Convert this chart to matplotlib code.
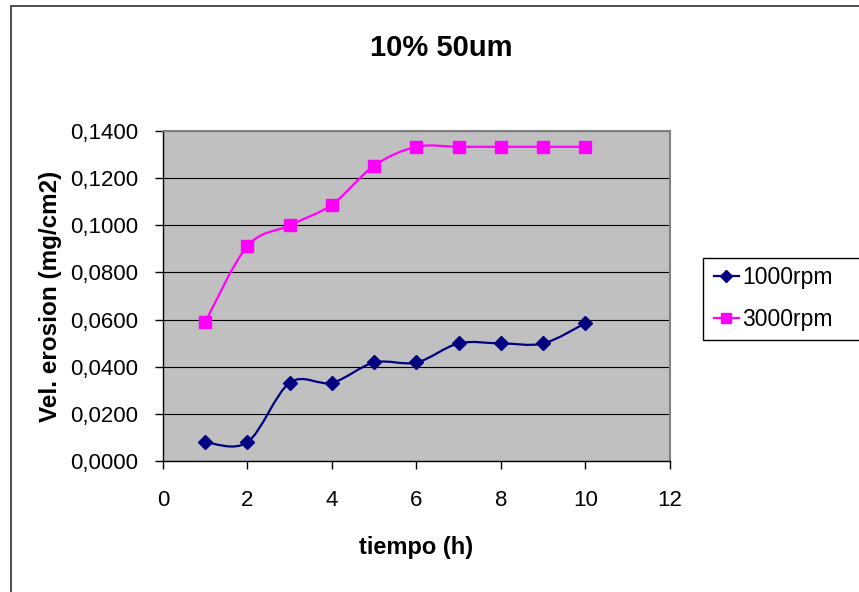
import numpy as np
import matplotlib
matplotlib.use("Agg")
import matplotlib.pyplot as plt
from matplotlib.path import Path
from matplotlib.patches import PathPatch, Rectangle
from matplotlib.lines import Line2D
from matplotlib.ticker import FuncFormatter

plt.rcParams['font.family'] = ['Liberation Sans', 'DejaVu Sans']

# ---- data ----
tiempo = [1, 2, 3, 4, 5, 6, 7, 8, 9, 10]
rpm1000 = [0.0080, 0.0080, 0.0332, 0.0332, 0.0418, 0.0418, 0.0499, 0.0499, 0.0499, 0.0585]
rpm3000 = [0.0590, 0.0912, 0.1000, 0.1088, 0.1253, 0.1333, 0.1333, 0.1333, 0.1333, 0.1333]
series_labels = ["1000rpm", "3000rpm"]
title = "10% 50um"
xlabel = "tiempo (h)"
ylabel = "Vel. erosion (mg/cm2)"
xticks = [0, 2, 4, 6, 8, 10, 12]
yticks = [0.0, 0.02, 0.04, 0.06, 0.08, 0.10, 0.12, 0.14]

W, H = 859, 592
fig = plt.figure(figsize=(W / 100, H / 100), dpi=100)
fig.patch.set_facecolor('white')

# outer chart border
fig.add_artist(Rectangle((11 / W, -0.1), 1.2, 1 - 6 / H + 0.1, transform=fig.transFigure,
                         fill=False, edgecolor='#404040', linewidth=1.3))

ax = fig.add_axes([163 / W, 1 - 461 / H, (670 - 163) / W, (461 - 131) / H])
ax.set_facecolor('#C0C0C0')
ax.set_xlim(0, 12)
ax.set_ylim(0, 0.14)
ax.set_xticks(xticks)
ax.set_yticks(yticks)
ax.yaxis.set_major_formatter(FuncFormatter(lambda v, p: f"{v:.4f}".replace('.', ',')))
ax.grid(axis='y', color='black', linewidth=0.8)
ax.set_axisbelow(True)
ax.tick_params(axis='both', direction='out', length=6, width=1, colors='black', labelsize=16)
ax.tick_params(axis='y', pad=12)
ax.tick_params(axis='x', pad=15)
for s in ['left', 'bottom']:
    ax.spines[s].set_color('black')
    ax.spines[s].set_linewidth(1.0)
for s in ['top', 'right']:
    ax.spines[s].set_color('#808080')
    ax.spines[s].set_linewidth(1.5)


def smooth_path(xs, ys):
    pts = np.column_stack([xs, ys]).astype(float)
    n = len(pts)
    verts = [pts[0]]
    codes = [Path.MOVETO]
    for i in range(n - 1):
        p0 = pts[i - 1] if i > 0 else pts[i]
        p1 = pts[i]
        p2 = pts[i + 1]
        p3 = pts[i + 2] if i + 2 < n else pts[i + 1]
        c1 = p1 + (p2 - p0) / 6.0
        c2 = p2 - (p3 - p1) / 6.0
        verts += [c1, c2, p2]
        codes += [Path.CURVE4] * 3
    return Path(verts, codes)


styles = [
    dict(color='#000080', marker='D', ms=7.0),
    dict(color='#FF00FF', marker='s', ms=8.5),
]
handles = []
for ys, st, lab in zip([rpm1000, rpm3000], styles, series_labels):
    ax.add_patch(PathPatch(smooth_path(tiempo, ys), fill=False, edgecolor=st['color'],
                           linewidth=1.6, zorder=3))
    ax.plot(tiempo, ys, linestyle='none', marker=st['marker'], markersize=st['ms'],
            color=st['color'], markeredgecolor=st['color'], zorder=4, clip_on=False)
    handles.append(Line2D([], [], color=st['color'], linewidth=1.6, marker=st['marker'],
                          markersize=st['ms'] * 0.9, label=lab))

fig.text(441 / W, 1 - 48 / H, title, ha='center', va='center', fontsize=21, fontweight='bold')
ax.set_xlabel(xlabel, fontsize=17, fontweight='bold', labelpad=18)
ax.set_ylabel(ylabel, fontsize=17.5, fontweight='bold', labelpad=6)

# legend box (extends past the right edge as in the original)
fig.add_artist(Rectangle((703 / W, 1 - 340 / H), 170 / W, 82 / H, transform=fig.transFigure,
                         facecolor='white', edgecolor='black', linewidth=1.0, zorder=5))
leg = fig.legend(handles=handles, loc='upper left', bbox_to_anchor=(714 / W, 1 - 266 / H),
                 bbox_transform=fig.transFigure, frameon=False, fontsize=16.5,
                 handlelength=1.08, handletextpad=0.14, labelspacing=0.85, borderpad=0,
                 borderaxespad=0)
leg.set_zorder(6)

fig.savefig('out.png', dpi=100)
